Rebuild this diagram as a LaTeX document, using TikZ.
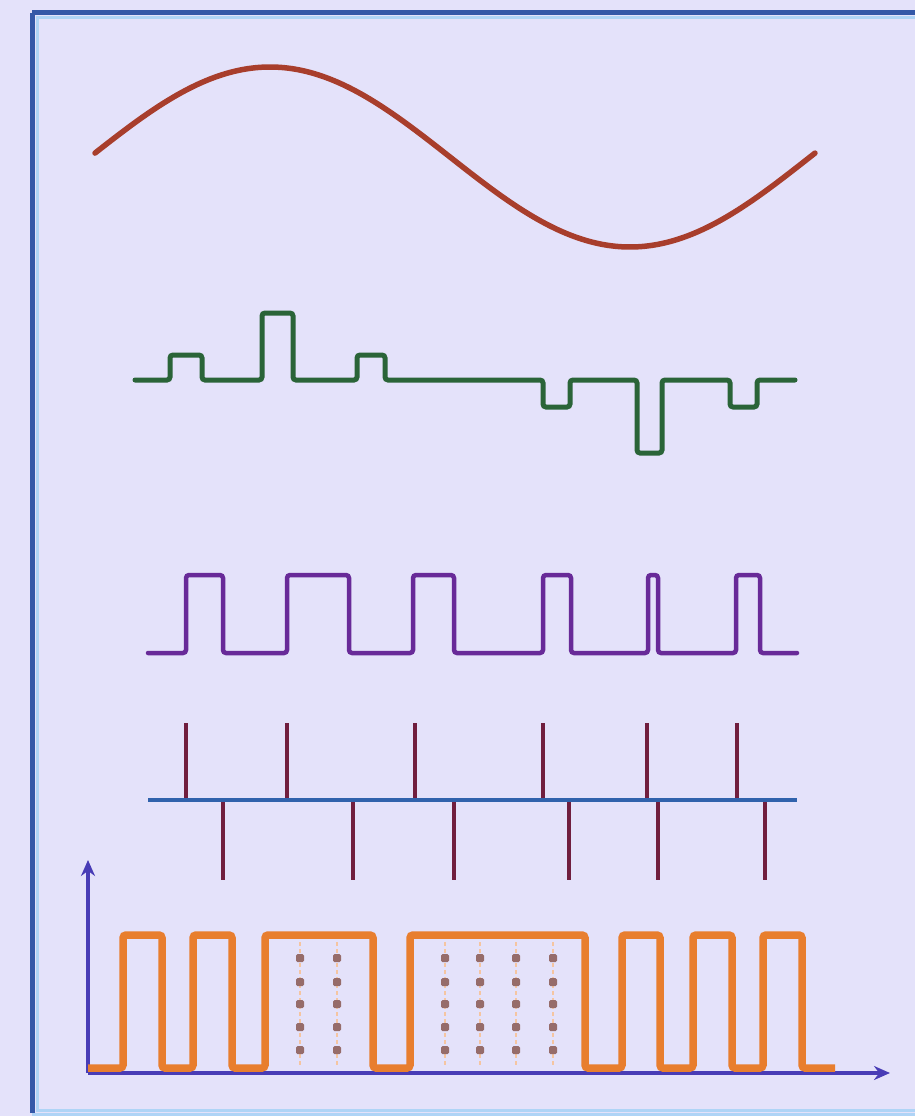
\documentclass[tikz,border=0pt]{standalone}
\usetikzlibrary{arrows.meta}
\definecolor{bg}{RGB}{228,226,250}
\definecolor{framedark}{RGB}{52,88,168}
\definecolor{framelight}{RGB}{175,212,246}
\definecolor{sinec}{RGB}{168,62,44}
\definecolor{greenc}{RGB}{42,100,56}
\definecolor{purplec}{RGB}{104,42,152}
\definecolor{spikec}{RGB}{112,30,62}
\definecolor{basec}{RGB}{48,98,172}
\definecolor{orangec}{RGB}{232,126,46}
\definecolor{axisc}{RGB}{72,60,182}
\definecolor{dotc}{RGB}{150,108,106}
\tikzset{
  sinewave/.style={draw=sinec,line width=5.5pt,line cap=round},
  greenwave/.style={draw=greenc,line width=5pt,rounded corners=3pt,line cap=round},
  purplewave/.style={draw=purplec,line width=4.5pt,rounded corners=3pt,line cap=round},
  spikeline/.style={draw=spikec,line width=4pt},
  baseline/.style={draw=basec,line width=4.5pt},
  orangewave/.style={draw=orangec,line width=7.5pt,rounded corners=3pt},
  axisline/.style={draw=axisc,line width=3.5pt,-{Stealth[length=16pt,width=14pt]}},
  dotcol/.style={draw=orangec!45,line width=1.5pt,dash pattern=on 4pt off 3pt},
  dotmark/.style={fill=dotc,rounded corners=1.5pt}
}
\begin{document}
\begin{tikzpicture}[x=1pt,y=-1pt]
\useasboundingbox (0,0) rectangle (915,1116);
\fill[bg] (0,0) rectangle (915,1116);
% frame
\begin{scope}
\clip (0,0) rectangle (915,1116);
\draw[framelight,line width=3pt] (37,18) rectangle (935,1110);
\draw[framedark,line width=5pt] (32,13) -- (32,1113);
\draw[framedark,line width=5pt] (32,13) -- (935,13);
\draw[framelight,line width=3pt] (32,1114) -- (935,1114);
\end{scope}
% sine
\draw[sinewave] plot[domain=95:815,samples=120,smooth] (\x,{157-90*sin((\x-90)/2)});
% green
\draw[greenwave] (135,380) -- (170,380) -- (170,355) -- (202,355) -- (202,380)
  -- (262,380) -- (262,313) -- (293,313) -- (293,380)
  -- (357,380) -- (357,355) -- (385,355) -- (385,380)
  -- (543,380) -- (543,407) -- (570,407) -- (570,380)
  -- (637,380) -- (637,453) -- (662,453) -- (662,380)
  -- (730,380) -- (730,407) -- (757,407) -- (757,380) -- (795,380);
% purple
\draw[purplewave] (148,653)
  -- (186,653) -- (186,575) -- (223,575) -- (223,653)
  -- (287,653) -- (287,575) -- (349,575) -- (349,653)
  -- (413,653) -- (413,575) -- (454,575) -- (454,653)
  -- (543,653) -- (543,575) -- (571,575) -- (571,653)
  -- (648,653) -- (648,575) -- (658,575) -- (658,653)
  -- (736,653) -- (736,575) -- (760,575) -- (760,653) -- (797,653);
% spikes
\foreach \sx in {186,287,415,543,647,737}
  \draw[spikeline] (\sx,800) -- (\sx,723);
\foreach \sx in {223,353,454,569,658,765}
  \draw[spikeline] (\sx,800) -- (\sx,880);
\draw[baseline] (148,800) -- (797,800);
% axes
\coordinate (O) at (88,1073);
\coordinate (Ytip) at (88,860);
\coordinate (Xtip) at (890,1073);
\draw[axisline] (O) -- (Ytip);
\draw[axisline] (O) -- (Xtip);
% dotted columns
\foreach \cx in {300,337,445,480,516,553} {
  \draw[dotcol] (\cx,942) -- (\cx,1066);
  \foreach \cy in {958,982,1004,1027,1050}
    \fill[dotmark] (\cx-4,\cy-4) rectangle (\cx+4,\cy+4);
}
% orange
\draw[orangewave] (88,1068)
  -- (123,1068) -- (123,935) -- (162,935) -- (162,1068)
  -- (193,1068) -- (193,935) -- (232,935) -- (232,1068)
  -- (265,1068) -- (265,935) -- (373,935) -- (373,1068)
  -- (410,1068) -- (410,935) -- (585,935) -- (585,1068)
  -- (622,1068) -- (622,935) -- (660,935) -- (660,1068)
  -- (693,1068) -- (693,935) -- (732,935) -- (732,1068)
  -- (763,1068) -- (763,935) -- (802,935) -- (802,1068) -- (835,1068);
\end{tikzpicture}
\end{document}
